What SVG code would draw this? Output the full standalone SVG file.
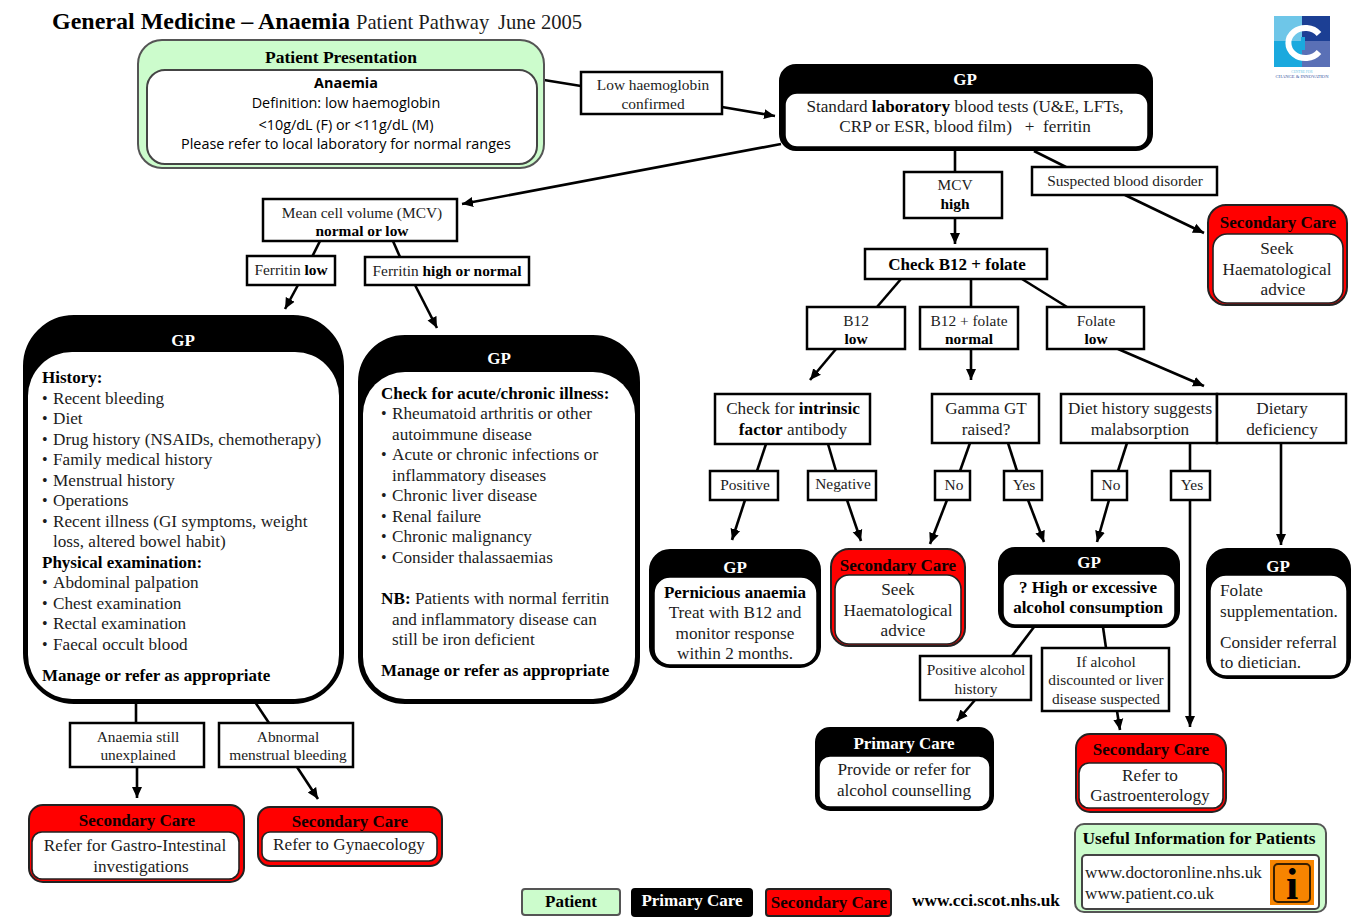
<svg xmlns="http://www.w3.org/2000/svg" width="1351" height="921" viewBox="0 0 1351 921">
<style>
text{font-family:"Liberation Serif","Times New Roman",serif;font-size:16px;fill:#1c1c1c}
.c{text-anchor:middle}
.m{font-size:15.4px}
.l{font-size:17.2px}
.b{font-weight:bold;fill:#000}
tspan.b{font-weight:bold}
.h{font-size:17px;font-weight:bold;fill:#000}
.w{fill:#fff;font-weight:bold;font-size:17px}
.s{font-family:"Open Sans","Noto Sans",sans-serif;font-size:14.4px;fill:#000}
.box{fill:#fff;stroke:#000;stroke-width:2.5}
.blk{fill:#000;stroke:#000;stroke-width:2}
.red{fill:#f00;stroke:#222;stroke-width:2}
.grn{fill:#ccfccc;stroke:#555;stroke-width:2}
.in{fill:#fff;stroke:#000;stroke-width:1.5}
.inr{fill:#fff;stroke:#222;stroke-width:1.6}
.ing{fill:#fff;stroke:#444;stroke-width:2}
.rh{font-weight:bold;fill:#100;font-size:17px}
#connectors line{stroke:#000;stroke-width:2.6;fill:none}
#connectors line.a{marker-end:url(#arr)}
</style>
<defs>
<marker id="arr" markerUnits="userSpaceOnUse" markerWidth="12" markerHeight="12" refX="11" refY="6" orient="auto"><path d="M0,1 L11,6 L0,11 Z" fill="#000"/></marker>
</defs>
<rect width="1351" height="921" fill="#fff"/>
<g id="title">
<text x="52" y="29" class="b" style="font-size:24px">General Medicine – Anaemia</text>
<text x="356" y="29" style="font-size:20.6px">Patient Pathway</text>
<text x="498" y="29" style="font-size:20.6px">June 2005</text>
</g>
<g id="logo">
<rect x="1274" y="16" width="28" height="25" fill="#6ec6e8"/>
<rect x="1302" y="16" width="28" height="25" fill="#1c3f94"/>
<rect x="1274" y="41" width="28" height="26" fill="#1aa9de"/>
<rect x="1302" y="41" width="28" height="26" fill="#5a70b6"/>
<path d="M1319,34 A17,15 0 1 0 1319,52" fill="none" stroke="#fff" stroke-width="6"/>
<rect x="1301" y="37" width="4" height="13" fill="#1aa9de"/>
<text x="1302" y="73" class="c" style="font-size:3.5px;fill:#6ec6e8">CENTRE FOR</text>
<text x="1302" y="77.5" class="c" style="font-size:4.6px;fill:#3a55a0">CHANGE &amp; INNOVATION</text>
</g>
<g id="connectors">
<line x1="544" y1="80" x2="581" y2="86"/>
<line x1="722" y1="107" x2="775" y2="116" class="a"/>
<line x1="781" y1="144" x2="462" y2="204" class="a"/>
<line x1="320" y1="241" x2="312" y2="257"/>
<line x1="393" y1="241" x2="400" y2="257"/>
<line x1="298" y1="285" x2="285" y2="309" class="a"/>
<line x1="415" y1="285" x2="437" y2="328" class="a"/>
<line x1="955" y1="150" x2="955" y2="172"/>
<line x1="955" y1="218" x2="955" y2="244" class="a"/>
<line x1="1034" y1="151" x2="1066" y2="167"/>
<line x1="1125" y1="195" x2="1204" y2="233" class="a"/>
<line x1="901" y1="279" x2="877" y2="307"/>
<line x1="971" y1="279" x2="971" y2="307"/>
<line x1="1022" y1="279" x2="1067" y2="307"/>
<line x1="836" y1="349" x2="810" y2="380" class="a"/>
<line x1="971" y1="349" x2="971" y2="380" class="a"/>
<line x1="1118" y1="349" x2="1204" y2="386" class="a"/>
<line x1="766" y1="444" x2="757" y2="471"/>
<line x1="828" y1="444" x2="836" y2="471"/>
<line x1="745" y1="500" x2="732" y2="540" class="a"/>
<line x1="847" y1="500" x2="861" y2="541" class="a"/>
<line x1="970" y1="443" x2="960" y2="471"/>
<line x1="1008" y1="443" x2="1017" y2="471"/>
<line x1="947" y1="500" x2="930" y2="544" class="a"/>
<line x1="1028" y1="500" x2="1044" y2="542" class="a"/>
<line x1="1127" y1="443" x2="1118" y2="471"/>
<line x1="1190" y1="443" x2="1190" y2="471"/>
<line x1="1190" y1="500" x2="1190" y2="727" class="a"/>
<line x1="1109" y1="500" x2="1097" y2="542" class="a"/>
<line x1="1281" y1="443" x2="1281" y2="545" class="a"/>
<line x1="1034" y1="627" x2="1012" y2="656"/>
<line x1="1103" y1="627" x2="1106" y2="648"/>
<line x1="975" y1="700" x2="957" y2="721" class="a"/>
<line x1="1117" y1="711" x2="1120" y2="730" class="a"/>
<line x1="136" y1="702" x2="136" y2="723"/>
<line x1="255" y1="702" x2="269" y2="723"/>
<line x1="137" y1="767" x2="137" y2="798" class="a"/>
<line x1="297" y1="767" x2="318" y2="799" class="a"/>
</g>
<g id="patient-presentation">
<rect x="138" y="40" width="406" height="128" rx="24" class="grn"/>
<rect x="147" y="70" width="390" height="94" rx="18" class="ing"/>
<text x="341" y="63" class="c b" style="font-size:17.5px">Patient Presentation</text>
<text x="346" y="88" class="c s" style="font-weight:bold">Anaemia</text>
<text x="346" y="108" class="c s">Definition: low haemoglobin</text>
<text x="346" y="130" class="c s">&lt;10g/dL (F) or &lt;11g/dL (M)</text>
<text x="346" y="149" class="c s">Please refer to local laboratory for normal ranges</text>
</g>
<g id="low-hb"><rect x="581" y="72" width="141" height="42" class="box"/>
<text x="653" y="90" class="c m">Low haemoglobin</text><text x="653" y="109" class="c m">confirmed</text></g>
<g id="gp-standard"><rect x="780" y="65" width="372" height="85" rx="16" class="blk"/>
<rect x="785" y="93" width="363" height="54" rx="12" class="in"/>
<text x="965" y="85" class="c w">GP</text>
<text x="965" y="112" class="c l">Standard <tspan class="b">laboratory</tspan> blood tests (U&amp;E, LFTs,</text>
<text x="965" y="132" class="c l" xml:space="preserve">CRP or ESR, blood film)   +  ferritin</text></g>
<g id="mcv-normal"><rect x="263" y="199" width="194" height="42" class="box"/>
<text x="362" y="218" class="c m">Mean cell volume (MCV)</text><text x="362" y="236" class="c b m">normal or low</text></g>
<g id="ferritin-low"><rect x="247" y="256" width="88" height="29" class="box"/><text x="291" y="275" class="c m">Ferritin <tspan class="b">low</tspan></text></g>
<g id="ferritin-high"><rect x="365" y="257" width="164" height="28" class="box"/><text x="447" y="276" class="c m">Ferritin <tspan class="b">high or normal</tspan></text></g>
<g id="mcv-high"><rect x="904" y="172" width="98" height="46" class="box"/><text x="955" y="190" class="c m">MCV</text><text x="955" y="209" class="c b m">high</text></g>
<g id="suspected"><rect x="1032" y="167" width="185" height="28" class="box"/><text x="1125" y="186" class="c m">Suspected blood disorder</text></g>
<g id="sc-top"><rect x="1208" y="205" width="139" height="100" rx="18" class="red"/><rect x="1213" y="234" width="130" height="69" rx="14" class="inr"/>
<text x="1278" y="228" class="c rh">Secondary Care</text>
<text x="1277" y="254" class="c l">Seek</text><text x="1277" y="275" class="c l">Haematological</text><text x="1283" y="295" class="c l">advice</text></g>
<g id="check-b12"><rect x="865" y="249" width="182" height="30" class="box"/><text x="957" y="270" class="c h">Check B12 + folate</text></g>
<g id="b12-low"><rect x="807" y="307" width="98" height="42" class="box"/><text x="856" y="326" class="c m">B12</text><text x="856" y="344" class="c b m">low</text></g>
<g id="b12-normal"><rect x="920" y="307" width="98" height="42" class="box"/><text x="969" y="326" class="c m">B12 + folate</text><text x="969" y="344" class="c b m">normal</text></g>
<g id="folate-low"><rect x="1047" y="307" width="97" height="42" class="box"/><text x="1096" y="326" class="c m">Folate</text><text x="1096" y="344" class="c b m">low</text></g>
<g id="intrinsic"><rect x="715" y="394" width="155" height="50" class="box"/><text x="793" y="414" class="c l">Check for <tspan class="b">intrinsic</tspan></text><text x="793" y="435" class="c l"><tspan class="b">factor</tspan> antibody</text></g>
<g id="gamma"><rect x="932" y="394" width="107" height="49" class="box"/><text x="986" y="414" class="c l">Gamma GT</text><text x="986" y="435" class="c l">raised?</text></g>
<g id="diet"><rect x="1061" y="394" width="156" height="49" class="box"/><text x="1140" y="414" class="c l">Diet history suggests</text><text x="1140" y="435" class="c l">malabsorption</text></g>
<g id="dietary"><rect x="1217" y="394" width="129" height="49" class="box"/><text x="1282" y="414" class="c l">Dietary</text><text x="1282" y="435" class="c l">deficiency</text></g>
<g id="positive"><rect x="710" y="471" width="68" height="29" class="box"/><text x="745" y="490" class="c m">Positive</text></g>
<g id="negative"><rect x="808" y="471" width="68" height="29" class="box"/><text x="843" y="489" class="c m">Negative</text></g>
<g id="no1"><rect x="935" y="471" width="35" height="29" class="box"/><text x="954" y="490" class="c m">No</text></g>
<g id="yes1"><rect x="1004" y="471" width="38" height="29" class="box"/><text x="1024" y="490" class="c m">Yes</text></g>
<g id="no2"><rect x="1092" y="471" width="35" height="29" class="box"/><text x="1111" y="490" class="c m">No</text></g>
<g id="yes2"><rect x="1171" y="471" width="39" height="29" class="box"/><text x="1192" y="490" class="c m">Yes</text></g>
<g id="gp-pernicious"><rect x="650" y="550" width="170" height="117" rx="20" class="blk"/><rect x="654" y="577" width="163" height="88" rx="16" class="in"/>
<text x="735" y="573" class="c w">GP</text>
<text x="735" y="598" class="c h">Pernicious anaemia</text><text x="735" y="618" class="c l">Treat with B12 and</text><text x="735" y="639" class="c l">monitor response</text><text x="735" y="659" class="c l">within 2 months.</text></g>
<g id="sc-seek"><rect x="831" y="549" width="134" height="97" rx="18" class="red"/><rect x="835" y="575" width="126" height="69" rx="14" class="inr"/>
<text x="898" y="571" class="c rh">Secondary Care</text>
<text x="898" y="595" class="c l">Seek</text><text x="898" y="616" class="c l">Haematological</text><text x="903" y="636" class="c l">advice</text></g>
<g id="gp-alcohol"><rect x="999" y="548" width="180" height="79" rx="16" class="blk"/><rect x="1003" y="574" width="172" height="51" rx="12" class="in"/>
<text x="1089" y="568" class="c w">GP</text>
<text x="1088" y="593" class="c h">? High or excessive</text><text x="1088" y="613" class="c h">alcohol consumption</text></g>
<g id="gp-folate"><rect x="1207" y="549" width="143" height="129" rx="20" class="blk"/><rect x="1210" y="575" width="137" height="101" rx="16" class="in"/>
<text x="1278" y="572" class="c w">GP</text>
<text x="1220" y="596" class="l">Folate</text><text x="1220" y="617" class="l">supplementation.</text><text x="1220" y="648" class="l">Consider referral</text><text x="1220" y="668" class="l">to dietician.</text></g>
<g id="pos-alcohol"><rect x="920" y="656" width="111" height="44" class="box"/><text x="976" y="675" class="c m">Positive alcohol</text><text x="976" y="694" class="c m">history</text></g>
<g id="if-alcohol"><rect x="1042" y="648" width="127" height="63" class="box"/><text x="1106" y="667" class="c m">If alcohol</text><text x="1106" y="685" class="c m">discounted or liver</text><text x="1106" y="704" class="c m">disease suspected</text></g>
<g id="primary-alcohol"><rect x="816" y="728" width="177" height="82" rx="14" class="blk"/><rect x="819" y="756" width="171" height="51" rx="11" class="in"/>
<text x="904" y="749" class="c w">Primary Care</text>
<text x="904" y="775" class="c l">Provide or refer for</text><text x="904" y="796" class="c l">alcohol counselling</text></g>
<g id="sc-gastro"><rect x="1076" y="734" width="150" height="78" rx="14" class="red"/><rect x="1079" y="763" width="144" height="45" rx="10" class="inr"/>
<text x="1151" y="755" class="c rh">Secondary Care</text>
<text x="1150" y="781" class="c l">Refer to</text><text x="1150" y="801" class="c l">Gastroenterology</text></g>
<g id="gp-history"><rect x="24" y="316" width="319" height="387" rx="50" class="blk"/><rect x="28" y="352" width="311" height="347" rx="44" fill="#fff"/>
<text x="183" y="346" class="c w">GP</text>
<text x="42" y="383" class="h">History:</text>
<text x="42" y="404">•</text><text x="53" y="404" class="l">Recent bleeding</text>
<text x="42" y="424">•</text><text x="53" y="424" class="l">Diet</text>
<text x="42" y="445">•</text><text x="53" y="445" class="l">Drug history (NSAIDs, chemotherapy)</text>
<text x="42" y="465">•</text><text x="53" y="465" class="l">Family medical history</text>
<text x="42" y="486">•</text><text x="53" y="486" class="l">Menstrual history</text>
<text x="42" y="506">•</text><text x="53" y="506" class="l">Operations</text>
<text x="42" y="527">•</text><text x="53" y="527" class="l">Recent illness (GI symptoms, weight</text>
<text x="53" y="547" class="l">loss, altered bowel habit)</text>
<text x="42" y="568" class="h">Physical examination:</text>
<text x="42" y="588">•</text><text x="53" y="588" class="l">Abdominal palpation</text>
<text x="42" y="609">•</text><text x="53" y="609" class="l">Chest examination</text>
<text x="42" y="629">•</text><text x="53" y="629" class="l">Rectal examination</text>
<text x="42" y="650">•</text><text x="53" y="650" class="l">Faecal occult blood</text>
<text x="42" y="681" class="h">Manage or refer as appropriate</text>
</g>
<g id="gp-illness"><rect x="359" y="336" width="280" height="367" rx="46" class="blk"/><rect x="363" y="372" width="272" height="327" rx="42" fill="#fff"/>
<text x="499" y="364" class="c w">GP</text>
<text x="381" y="399" class="h">Check for acute/chronic illness:</text>
<text x="381" y="419">•</text><text x="392" y="419" class="l">Rheumatoid arthritis or other</text>
<text x="392" y="440" class="l">autoimmune disease</text>
<text x="381" y="460">•</text><text x="392" y="460" class="l">Acute or chronic infections or</text>
<text x="392" y="481" class="l">inflammatory diseases</text>
<text x="381" y="501">•</text><text x="392" y="501" class="l">Chronic liver disease</text>
<text x="381" y="522">•</text><text x="392" y="522" class="l">Renal failure</text>
<text x="381" y="542">•</text><text x="392" y="542" class="l">Chronic malignancy</text>
<text x="381" y="563">•</text><text x="392" y="563" class="l">Consider thalassaemias</text>
<text x="381" y="604" class="l"><tspan class="b">NB:</tspan> Patients with normal ferritin</text>
<text x="392" y="625" class="l">and inflammatory disease can</text>
<text x="392" y="645" class="l">still be iron deficient</text>
<text x="381" y="676" class="h">Manage or refer as appropriate</text></g>
<g id="anaemia-still"><rect x="70" y="723" width="134" height="44" class="box"/><text x="138" y="742" class="c m">Anaemia still</text><text x="138" y="760" class="c m">unexplained</text></g>
<g id="abnormal"><rect x="219" y="723" width="134" height="44" class="box"/><text x="288" y="742" class="c m">Abnormal</text><text x="288" y="760" class="c m">menstrual bleeding</text></g>
<g id="sc-gi"><rect x="29" y="805" width="215" height="77" rx="14" class="red"/><rect x="32" y="832" width="207" height="47" rx="10" class="inr"/>
<text x="137" y="826" class="c rh">Secondary Care</text>
<text x="135" y="851" class="c l">Refer for Gastro-Intestinal</text><text x="141" y="872" class="c l">investigations</text></g>
<g id="sc-gyn"><rect x="258" y="807" width="184" height="59" rx="12" class="red"/><rect x="262" y="832" width="175" height="29" rx="8" class="inr"/>
<text x="350" y="827" class="c rh">Secondary Care</text>
<text x="349" y="850" class="c l">Refer to Gynaecology</text></g>
<g id="useful"><rect x="1075" y="824" width="251" height="88" rx="9" class="grn"/><rect x="1082" y="855" width="237" height="54" rx="4" class="ing"/>
<text x="1199" y="844" class="c b" style="font-size:17.4px">Useful Information for Patients</text>
<text x="1085" y="878" class="l">www.doctoronline.nhs.uk</text><text x="1085" y="899" class="l">www.patient.co.uk</text>
<rect x="1270" y="860" width="44" height="45" fill="#f78400"/><rect x="1274" y="864" width="36" height="38" rx="4" fill="none" stroke="#3a2000" stroke-width="2"/>
<text x="1292" y="899" class="c b" style="font-size:44px">i</text></g>
<g id="legend-patient"><rect x="522" y="889" width="98" height="26" rx="3" class="grn"/><text x="571" y="907" class="c h">Patient</text></g>
<g id="legend-primary"><rect x="632" y="889" width="120" height="27" rx="3" class="blk"/><text x="692" y="906" class="c w">Primary Care</text></g>
<g id="legend-secondary"><rect x="766" y="889" width="125" height="27" rx="3" class="red"/><text x="829" y="908" class="c rh">Secondary Care</text></g>
<text id="website" x="986" y="906" class="c b" style="font-size:17.3px">www.cci.scot.nhs.uk</text>
</svg>
